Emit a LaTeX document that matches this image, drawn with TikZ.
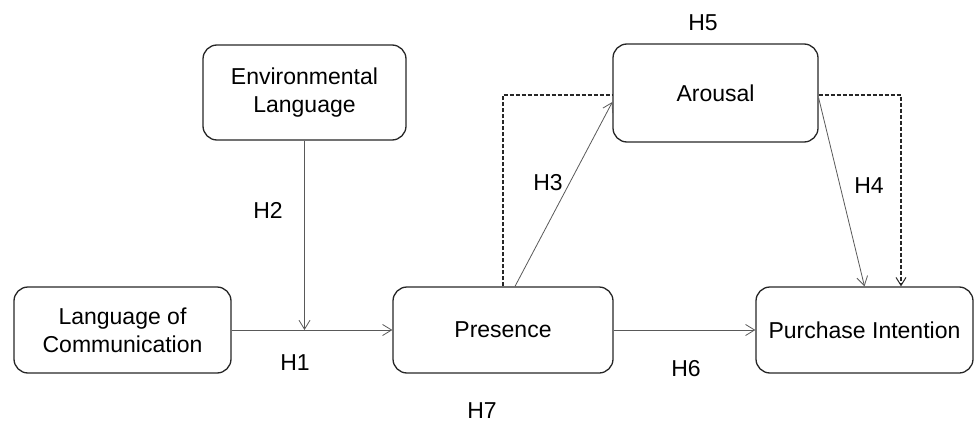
\documentclass[tikz,border=0pt]{standalone}
\usepackage{fontspec}
\setmainfont{Liberation Sans}
\usetikzlibrary{arrows.meta,calc}
\begin{document}
\begin{tikzpicture}[x=1pt,y=-1pt,
  box/.style={draw=black!85,line width=1.3pt,rounded corners=14pt,align=center,
    font=\fontsize{23}{28}\selectfont,inner sep=0pt},
  lbl/.style={font=\fontsize{23}{28}\selectfont,inner sep=0pt},
  conn/.style={draw=black!65,line width=0.8pt,-{Straight Barb[length=9pt,width=11pt,line width=0.8pt]}},
  dashline/.style={draw=black!85,line width=1.3pt,dash pattern=on 4pt off 2pt}
]
\useasboundingbox (0,0) rectangle (975,423);
\node[box,minimum width=203pt,minimum height=95pt] (env) at (304.5,92.5) {Environmental\\Language};
\node[box,minimum width=205pt,minimum height=98pt] (arousal) at (715.5,93) {Arousal};
\node[box,minimum width=217pt,minimum height=86pt] (loc) at (122.5,330) {Language of\\Communication};
\node[box,minimum width=220pt,minimum height=86pt] (pres) at (503,330) {Presence};
\node[box,minimum width=217pt,minimum height=86pt] (pi) at (864.5,330) {Purchase Intention};

\draw[conn] (loc.east) -- (pres.west);
\draw[conn] (env.south) -- (env.south |- loc.east);
\draw[conn] (pres.east) -- (pi.west);
\draw[conn] ([xshift=12pt]pres.north) -- ([yshift=-9pt]arousal.west);
\draw[conn] ([yshift=-5pt]arousal.east) -- (pi.north);
\draw[dashline] (pres.north) |- ([yshift=-2pt]arousal.west);
\draw[dashline,-{Straight Barb[length=8pt,width=10pt,line width=1pt]}] ([yshift=-2pt]arousal.east) -| ([xshift=36.5pt]pi.north);

\node[lbl] (h5) at (703,23) {H5};
\node[lbl] (h2) at (268,210) {H2};
\node[lbl] (h3) at (548,183) {H3};
\node[lbl] (h4) at (869,186) {H4};
\node[lbl] (h1) at (295,363) {H1};
\node[lbl] (h6) at (686,369) {H6};
\node[lbl] (h7) at (482,411) {H7};
\end{tikzpicture}
\end{document}
